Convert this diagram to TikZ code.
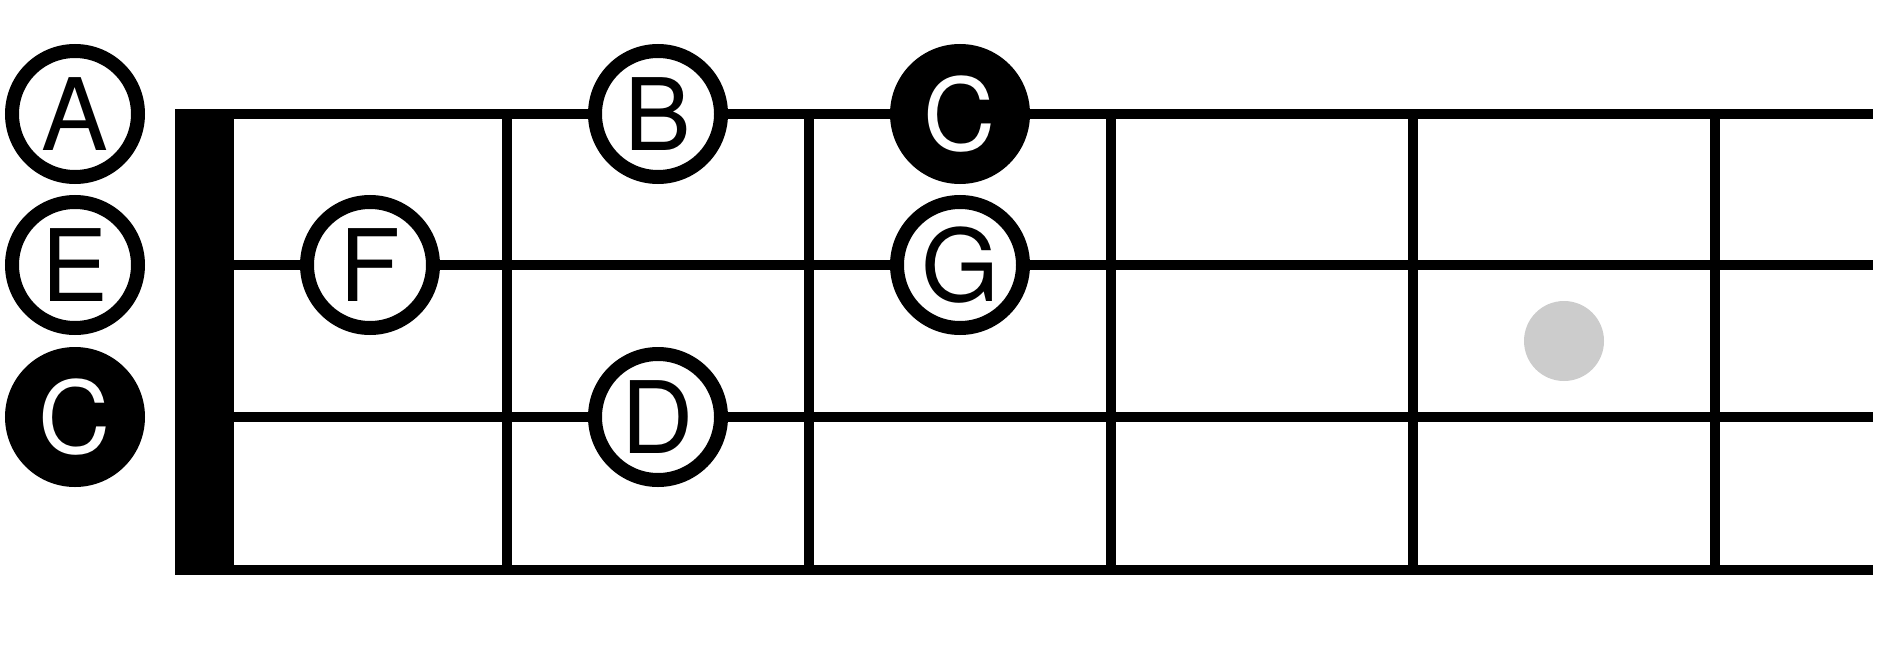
\documentclass[tikz,border=0pt]{standalone}
\usepackage{fontspec}
\setmainfont{TeX Gyre Heros}
\begin{document}
\begin{tikzpicture}[x=1pt,y=-1pt,
    fret/.style={line width=10pt},
    note/.style={circle,draw,line width=14pt,minimum size=126pt,inner sep=0pt,
      fill=white,font=\fontsize{100}{100}\selectfont},
    root/.style={note,fill=black,text=white}]
  \useasboundingbox (0,0) rectangle (1889,650);
  % nut, strings and frets
  \fill (175,109) rectangle (234,575);
  \foreach \y in {114,265,417,570}
    \draw[fret] (234,\y) -- (1873,\y);
  \foreach \x in {507,809,1111,1413,1715}
    \draw[fret] (\x,114) -- (\x,570);
  \fill[black!20] (1564,341) circle (40pt);
  % open strings
  \node[note] (openA) at (75,114) {A};
  \node[note] (openE) at (75,265) {E};
  \node[root] (openC) at (75,417) {C};
  % fretted notes
  \node[note] (F) at (370,265) {F};
  \node[note] (B) at (658,114) {B};
  \node[note] (D) at (658,417) {D};
  \node[root] (C) at (960,114) {C};
  \node[note] (G) at (960,265) {G};
\end{tikzpicture}
\end{document}
